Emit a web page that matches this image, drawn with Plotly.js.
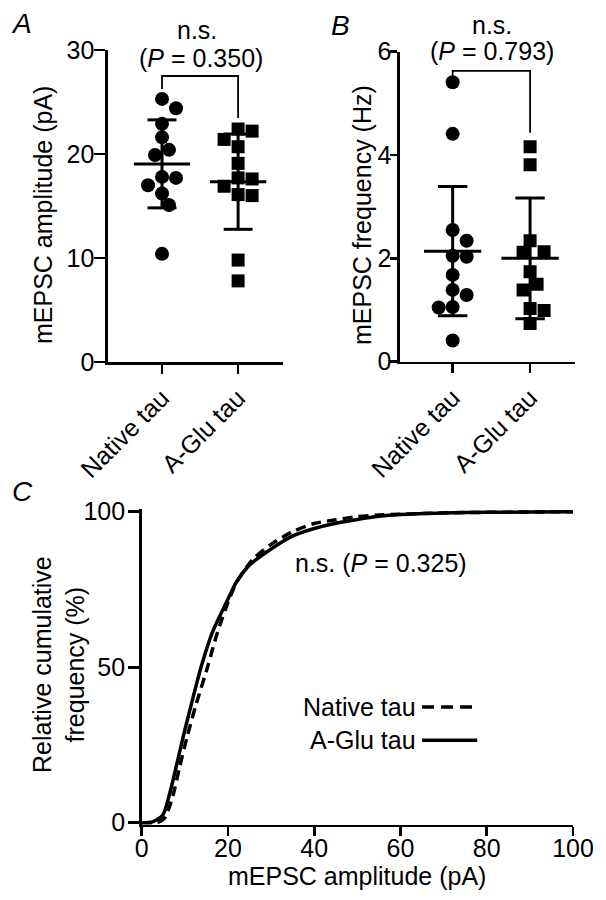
<!DOCTYPE html>
<html>
<head>
<meta charset="utf-8">
<script src="https://cdn.plot.ly/plotly-3.0.1.min.js"></script>
<style>
  body { margin: 0; background: #fff; }
  #chart { width: 606px; height: 900px; }
</style>
</head>
<body>
<div id="chart"></div>
<script>
// mEPSC amplitude / frequency, native tau vs A-Glu tau (panels A, B) + cumulative curve (C)

const groups = ['Native tau', 'A-Glu tau'];

// A: amplitude (pA)
const ampNative = [25.3, 24.4, 22.9, 21.6, 20.4, 19.9, 17.8, 17.7, 17.0, 16.2, 15.1, 10.4];
const ampAGlu = [22.4, 22.2, 21.4, 20.7, 19.1, 17.7, 17.6, 16.9, 16.1, 16.0, 9.8, 7.8];
const ampMean = [19.05, 17.34];
const ampSD = [4.23, 4.58];

// B: frequency (Hz)
const freqNative = [5.41, 4.41, 2.55, 2.34, 2.05, 2.03, 1.68, 1.39, 1.29, 1.06, 1.05, 0.41];
const freqAGlu = [4.16, 3.81, 2.34, 2.13, 2.12, 1.74, 1.50, 1.39, 1.03, 0.99, 0.74];
const freqMean = [2.14, 2.00];
const freqSD = [1.25, 1.17];

// C: relative cumulative frequency (%)
const cumNativeX = [0, 3.5, 5.3, 7.2, 8.8, 10.6, 12.6, 15.3, 17.5, 20.2, 22, 24.4, 26, 30, 35, 40, 45, 50, 55, 60, 70, 80, 90, 100];
const cumNativeY = [0, 0, 1.5, 8.5, 18, 28, 38, 50.2, 60.9, 71.6, 77.3, 82.3, 85, 89.5, 93.6, 96.2, 97.4, 98.4, 98.9, 99.2, 99.6, 99.8, 99.9, 100];
const cumAGluX = [0, 2.5, 4.9, 6.5, 8.0, 9.6, 11.4, 13.8, 16.3, 19.9, 22, 24.6, 26, 30, 35, 40, 45, 50, 55, 60, 70, 80, 90, 100];
const cumAGluY = [0, 0.3, 2.5, 9.4, 18, 27.5, 37.5, 50.2, 60.9, 71.6, 77.5, 82.3, 84, 88, 92.2, 94.6, 96.3, 97.5, 98.5, 99.1, 99.6, 99.8, 99.9, 100];

const W = 606, H = 900;
const FONT = 'Liberation Sans, Arial, sans-serif';
const FS = 25;

// pixel boxes of the three plot areas
const boxA = { x0: 108, x1: 283, y0: 50, y1: 362, xr: [-0.71, 1.59], yr: [0, 30] };
const boxB = { x0: 400, x1: 575, y0: 51.7, y1: 361.7, xr: [-0.68, 1.58], yr: [0, 6] };
const boxC = { x0: 141.7, x1: 573, y0: 509.2, y1: 824.6, xr: [0, 100], yr: [-0.6, 100.8] };

const px = x => x / W;
const py = y => 1 - y / H;

// simple beeswarm in pixel space
function swarm(values, center, box) {
  const kx = (box.x1 - box.x0) / (box.xr[1] - box.xr[0]);
  const ky = (box.y1 - box.y0) / (box.yr[1] - box.yr[0]);
  const D = 13, step = 7;
  const order = values.map((v, i) => i).sort((a, b) => values[b] - values[a]);
  const placed = [];
  const xs = new Array(values.length);
  order.forEach(i => {
    const y = values[i] * ky;
    for (let k = 0; k < 20; k++) {
      const off = (k === 0) ? 0 : (k % 2 ? 1 : -1) * Math.ceil(k / 2) * step;
      const ok = placed.every(p => Math.hypot(p.x - off, p.y - y) >= D);
      if (ok) { placed.push({ x: off, y: y }); xs[i] = center + off / kx; break; }
    }
  });
  return xs;
}

function dots(values, idx, box, xa, ya, symbol, size) {
  return {
    x: swarm(values, idx, box), y: values,
    xaxis: xa, yaxis: ya,
    type: 'scatter', mode: 'markers',
    marker: { symbol: symbol, size: size, color: '#000' },
    showlegend: false, hoverinfo: 'y'
  };
}

function meanSD(mean, sd, xa, ya) {
  const x = [], y = [];
  mean.forEach((m, i) => {
    const s = sd[i];
    x.push(i - 0.37, i + 0.37, null, i, i, null, i - 0.19, i + 0.19, null, i - 0.19, i + 0.19, null);
    y.push(m, m, null, m - s, m + s, null, m + s, m + s, null, m - s, m - s, null);
  });
  return {
    x: x, y: y, xaxis: xa, yaxis: ya,
    type: 'scatter', mode: 'lines',
    line: { color: '#000', width: 3 },
    showlegend: false, hoverinfo: 'skip'
  };
}

const traces = [
  dots(ampNative, 0, boxA, 'x', 'y', 'circle', 14),
  dots(ampAGlu, 1, boxA, 'x', 'y', 'square', 13),
  meanSD(ampMean, ampSD, 'x', 'y'),
  dots(freqNative, 0, boxB, 'x2', 'y2', 'circle', 14),
  dots(freqAGlu, 1, boxB, 'x2', 'y2', 'square', 13),
  meanSD(freqMean, freqSD, 'x2', 'y2'),
  {
    x: cumNativeX, y: cumNativeY, xaxis: 'x3', yaxis: 'y3',
    type: 'scatter', mode: 'lines', name: groups[0],
    line: { color: '#000', width: 3.5, dash: '10px,6px', shape: 'spline', smoothing: 0.7 },
    showlegend: false
  },
  {
    x: cumAGluX, y: cumAGluY, xaxis: 'x3', yaxis: 'y3',
    type: 'scatter', mode: 'lines', name: groups[1],
    line: { color: '#000', width: 3.5, shape: 'spline', smoothing: 0.7 },
    showlegend: false
  }
];

function axisBase() {
  return {
    showline: true, linecolor: '#000', linewidth: 2.6,
    ticks: 'outside', ticklen: 9, tickwidth: 2.6, tickcolor: '#000',
    showgrid: false, zeroline: false, fixedrange: true,
    tickfont: { family: FONT, size: FS, color: '#000' }
  };
}

function catAxis(box, anchor) {
  return Object.assign(axisBase(), {
    domain: [px(box.x0), px(box.x1)], range: box.xr, anchor: anchor,
    tickmode: 'array', tickvals: [0, 1], ticktext: groups, tickangle: -45
  });
}

function valAxis(box, anchor, dtick, len, standoff) {
  return Object.assign(axisBase(), {
    domain: [py(box.y1), py(box.y0)], range: box.yr, anchor: anchor,
    tickmode: 'linear', tick0: 0, dtick: dtick, ticklen: len, ticklabelstandoff: standoff
  });
}

const xC = Object.assign(axisBase(), {
  domain: [px(boxC.x0), px(boxC.x1)], range: boxC.xr, anchor: 'y3',
  tickmode: 'linear', tick0: 0, dtick: 20, ticklabelstandoff: -9
});
const yC = valAxis(boxC, 'x3', 50, 11, -2);
yC.tickmode = 'array';
yC.tickvals = [0, 50, 100];

function txt(text, x, y, opts) {
  return Object.assign({
    text: text, x: px(x), y: py(y), xref: 'paper', yref: 'paper',
    showarrow: false, xanchor: 'center', yanchor: 'middle',
    font: { family: FONT, size: FS, color: '#000' }
  }, opts || {});
}

const annotations = [
  txt('<i>A</i>', 21, 24, { font: { family: FONT, size: 28, color: '#000' } }),
  txt('<i>B</i>', 340, 25, { font: { family: FONT, size: 28, color: '#000' } }),
  txt('<i>C</i>', 22, 492, { font: { family: FONT, size: 28, color: '#000' } }),
  txt('n.s.', 197, 30),
  txt('(<i>P</i> = 0.350)', 201, 58),
  txt('n.s.', 492, 25),
  txt('(<i>P</i> = 0.793)', 492, 51),
  txt('mEPSC amplitude (pA)', 43, 215, { textangle: -90 }),
  txt('mEPSC frequency (Hz)', 362, 215, { textangle: -90 }),
  txt('Relative cumulative<br>frequency (%)', 58, 665, { textangle: -90 }),
  {
    text: 'mEPSC amplitude (pA)', x: 50, y: py(876), xref: 'x3', yref: 'paper',
    yanchor: 'middle', showarrow: false, font: { family: FONT, size: FS, color: '#000' }
  },
  {
    text: 'n.s. (<i>P</i> = 0.325)', x: 55.5, y: 83.4, xref: 'x3', yref: 'y3',
    showarrow: false, font: { family: FONT, size: FS, color: '#000' }
  },
  {
    text: groups[0], x: 64, y: 37.2, xref: 'x3', yref: 'y3', xanchor: 'right',
    showarrow: false, font: { family: FONT, size: FS, color: '#000' }
  },
  {
    text: groups[1], x: 64, y: 26.5, xref: 'x3', yref: 'y3', xanchor: 'right',
    showarrow: false, font: { family: FONT, size: FS, color: '#000' }
  }
];

const bracket = { color: '#000', width: 1.8 };
const shapes = [
  { type: 'path', xref: 'x', yref: 'y', path: 'M0,26.25 L0,27.5 L1,27.5 L1,23.46', line: bracket },
  { type: 'path', xref: 'x2', yref: 'y2', path: 'M0,5.49 L0,5.63 L1,5.63 L1,4.43', line: bracket },
  { type: 'line', xref: 'x3', yref: 'y3', x0: 65, x1: 77.8, y0: 37.2, y1: 37.2,
    line: { color: '#000', width: 3.5, dash: '12px,7px' } },
  { type: 'line', xref: 'x3', yref: 'y3', x0: 65, x1: 77.8, y0: 26.5, y1: 26.5,
    line: { color: '#000', width: 3.5 } }
];

const layout = {
  width: W, height: H,
  margin: { l: 0, r: 0, t: 0, b: 0 },
  paper_bgcolor: '#fff', plot_bgcolor: 'rgba(0,0,0,0)',
  showlegend: false,
  font: { family: FONT, size: FS, color: '#000' },
  xaxis: catAxis(boxA, 'y'),
  yaxis: valAxis(boxA, 'x', 10, 11, -5),
  xaxis2: catAxis(boxB, 'y2'),
  yaxis2: valAxis(boxB, 'x2', 2, 7, -6),
  xaxis3: xC,
  yaxis3: yC,
  annotations: annotations,
  shapes: shapes
};

Plotly.newPlot('chart', traces, layout, { staticPlot: true, displayModeBar: false });
</script>
</body>
</html>
